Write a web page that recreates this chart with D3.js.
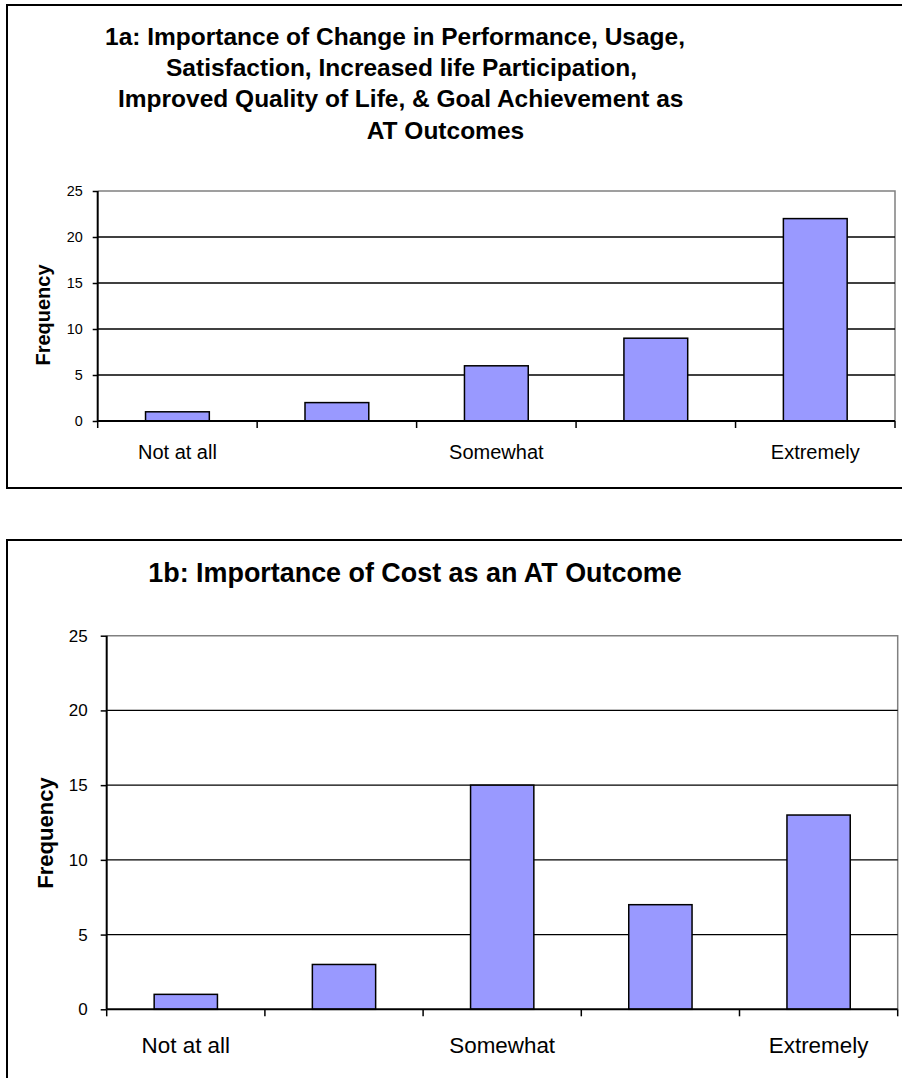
<!DOCTYPE html>
<html><head><meta charset="utf-8">
<script src="https://cdn.jsdelivr.net/npm/d3@7"></script>
<style>
body{margin:0;background:#fff}
svg{display:block}
text{font-family:"Liberation Sans",Arial,sans-serif;fill:#000}
</style>
</head><body>
<svg id="c" width="902" height="1078"></svg>
<script>
const categories = [1, 2, 3, 4, 5];
const tickLabels = ["Not at all", "", "Somewhat", "", "Extremely"];
const valuesA = [1, 2, 6, 9, 22];
const valuesB = [1, 3, 15, 7, 13];
const yTickValues = [0, 5, 10, 15, 20, 25];
const titleA = [
  "1a: Importance of Change in Performance, Usage,",
  "Satisfaction, Increased life Participation,",
  "Improved Quality of Life, & Goal Achievement as",
  "AT Outcomes"
];
const titleB = ["1b: Importance of Cost as an AT Outcome"];
const yLabel = "Frequency";

const svg = d3.select("#c");

function drawChart(cfg, values, titleLines) {
  const g = svg.append("g");
  g.append("rect")
    .attr("x", cfg.frame[0]).attr("y", cfg.frame[1])
    .attr("width", cfg.frame[2]).attr("height", cfg.frame[3])
    .attr("fill", "#fff").attr("stroke", "#000").attr("stroke-width", 2);

  const x = d3.scaleBand().domain(categories).range([cfg.left, cfg.right])
    .paddingInner(0.6).paddingOuter(0.3);
  const cell = d3.scaleBand().domain(categories).range([cfg.left, cfg.right]).padding(0);
  const y = d3.scaleLinear().domain([0, 25]).range([cfg.bottom, cfg.top]);

  g.append("path")
    .attr("d", `M${cfg.left},${y(25)}H${cfg.right}V${y(0)}`)
    .attr("fill", "none").attr("stroke", "#808080").attr("stroke-width", 1.5);

  g.selectAll("line.grid").data(yTickValues.filter(v => v > 0 && v < 25)).join("line")
    .attr("class", "grid")
    .attr("x1", cfg.left).attr("x2", cfg.right)
    .attr("y1", d => y(d)).attr("y2", d => y(d))
    .attr("stroke", "#000").attr("stroke-width", 1.4);

  g.selectAll("rect.bar").data(values).join("rect")
    .attr("class", "bar")
    .attr("x", (d, i) => x(categories[i]))
    .attr("width", x.bandwidth())
    .attr("y", d => y(d))
    .attr("height", d => y(0) - y(d))
    .attr("fill", "#9999FF").attr("stroke", "#000").attr("stroke-width", 1.5);

  const yAxis = g.append("g").attr("transform", `translate(${cfg.left},0)`)
    .call(d3.axisLeft(y).tickValues(yTickValues).tickSize(cfg.yTick).tickPadding(cfg.yPad).tickFormat(d3.format("d")));
  yAxis.select(".domain").attr("stroke", "#000").attr("stroke-width", 2).attr("d", `M0,${y(25)}V${y(0)}`);
  yAxis.selectAll(".tick line").attr("stroke", "#000").attr("stroke-width", 1.5);
  yAxis.selectAll(".tick text").attr("font-size", cfg.yTickSize).attr("fill", "#000")
    .attr("font-family", '"Liberation Sans",Arial,sans-serif');

  g.append("line").attr("x1", cfg.left).attr("x2", cfg.right)
    .attr("y1", y(0)).attr("y2", y(0)).attr("stroke", "#000").attr("stroke-width", 2);
  const bounds = categories.map(c => cell(c)).concat([cfg.right]);
  g.selectAll("line.xt").data(bounds).join("line")
    .attr("class", "xt")
    .attr("x1", d => d).attr("x2", d => d)
    .attr("y1", y(0)).attr("y2", y(0) + cfg.xTick)
    .attr("stroke", "#000").attr("stroke-width", 1.5);
  g.selectAll("text.xl").data(categories).join("text")
    .attr("class", "xl")
    .attr("x", d => x(d) + x.bandwidth() / 2)
    .attr("y", cfg.xLabelBaseline)
    .attr("text-anchor", "middle")
    .attr("font-size", cfg.xLabelSize)
    .text((d, i) => tickLabels[i]);

  g.append("text")
    .attr("transform", `translate(${cfg.yLabelX},${cfg.yLabelY}) rotate(-90)`)
    .attr("text-anchor", "middle")
    .attr("font-weight", "bold")
    .attr("font-size", cfg.yLabelSize)
    .text(yLabel);

  g.selectAll("text.title").data(titleLines).join("text")
    .attr("class", "title")
    .attr("x", (d, i) => cfg.titleX[i])
    .attr("y", (d, i) => cfg.titleY[i])
    .attr("font-weight", "bold")
    .attr("font-size", cfg.titleSize)
    .text(d => d);
}

drawChart({
  frame: [7, 5, 930, 483],
  left: 97.7, right: 895, top: 191, bottom: 421,
  yTick: 5, yPad: 10, yTickSize: 14.4,
  xTick: 7, xLabelBaseline: 459, xLabelSize: 20,
  yLabelX: 50, yLabelY: 315, yLabelSize: 20,
  titleX: [105, 166, 118, 366.7], titleY: [45, 76, 107, 139], titleSize: 24.5
}, valuesA, titleA);

drawChart({
  frame: [7, 540, 930, 560],
  left: 106.7, right: 897.7, top: 635.7, bottom: 1009.3,
  yTick: 6, yPad: 13, yTickSize: 17,
  xTick: 7, xLabelBaseline: 1053, xLabelSize: 22.4,
  yLabelX: 53, yLabelY: 833, yLabelSize: 22,
  titleX: [148.3], titleY: [581.7], titleSize: 26.9
}, valuesB, titleB);
</script>
</body></html>
